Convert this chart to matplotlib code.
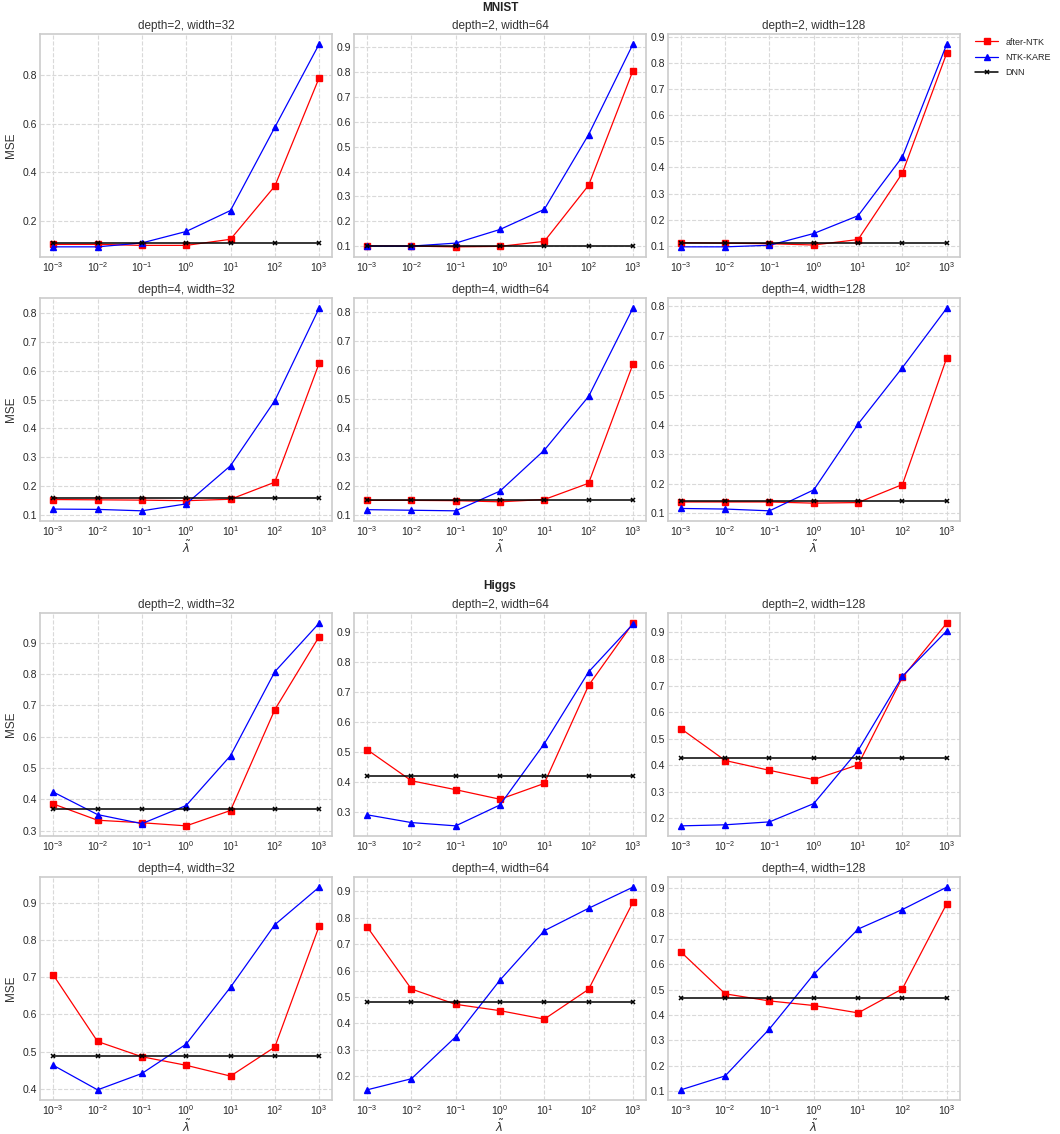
import matplotlib
matplotlib.use("Agg")
import matplotlib.pyplot as plt

# lambda grid and panel labels
lambdas = [1e-3, 1e-2, 1e-1, 1e0, 1e1, 1e2, 1e3]
panel_titles = [
    "depth=2, width=32", "depth=2, width=64", "depth=2, width=128",
    "depth=4, width=32", "depth=4, width=64", "depth=4, width=128",
]
series_labels = ["after-NTK", "NTK-KARE", "DNN"]

# MNIST (one row per panel, same order as panel_titles)
mnist_after_ntk = [
    [0.105, 0.105, 0.101, 0.101, 0.126, 0.344, 0.788],
    [0.101, 0.100, 0.097, 0.099, 0.119, 0.345, 0.806],
    [0.113, 0.111, 0.109, 0.104, 0.125, 0.379, 0.837],
    [0.154, 0.153, 0.152, 0.150, 0.155, 0.214, 0.625],
    [0.152, 0.152, 0.151, 0.147, 0.155, 0.211, 0.621],
    [0.138, 0.138, 0.138, 0.134, 0.136, 0.197, 0.626],
]
mnist_ntk_kare = [
    [0.095, 0.095, 0.111, 0.158, 0.244, 0.585, 0.926],
    [0.100, 0.100, 0.112, 0.167, 0.248, 0.549, 0.913],
    [0.097, 0.097, 0.103, 0.148, 0.216, 0.441, 0.871],
    [0.121, 0.120, 0.115, 0.139, 0.271, 0.496, 0.816],
    [0.120, 0.118, 0.116, 0.184, 0.325, 0.510, 0.814],
    [0.116, 0.114, 0.108, 0.179, 0.402, 0.593, 0.794],
]
mnist_dnn = [0.110, 0.101, 0.113, 0.158, 0.154, 0.141]

# Higgs
higgs_after_ntk = [
    [0.385, 0.333, 0.325, 0.315, 0.364, 0.686, 0.919],
    [0.507, 0.403, 0.373, 0.341, 0.394, 0.722, 0.930],
    [0.538, 0.418, 0.381, 0.346, 0.402, 0.731, 0.935],
    [0.706, 0.527, 0.486, 0.463, 0.434, 0.512, 0.837],
    [0.766, 0.530, 0.472, 0.448, 0.416, 0.529, 0.859],
    [0.648, 0.483, 0.455, 0.437, 0.408, 0.503, 0.838],
]
higgs_ntk_kare = [
    [0.423, 0.351, 0.322, 0.380, 0.539, 0.807, 0.962],
    [0.289, 0.263, 0.252, 0.322, 0.527, 0.767, 0.927],
    [0.172, 0.176, 0.187, 0.256, 0.456, 0.735, 0.906],
    [0.463, 0.397, 0.441, 0.520, 0.673, 0.841, 0.942],
    [0.148, 0.190, 0.349, 0.564, 0.751, 0.836, 0.916],
    [0.105, 0.160, 0.345, 0.560, 0.738, 0.815, 0.903],
]
higgs_dnn = [0.369, 0.420, 0.428, 0.489, 0.479, 0.465]

plt.style.use("seaborn-v0_8-whitegrid")
plt.rcParams.update({
    "font.family": "sans-serif",
    "font.sans-serif": ["Liberation Sans", "DejaVu Sans"],
    "xtick.labelsize": 7.5,
    "ytick.labelsize": 7.5,
    "axes.titlesize": 8.5,
    "axes.labelsize": 8.5,
    "grid.linestyle": "--",
    "grid.color": "#d9d9d9",
    "axes.edgecolor": "#cccccc",
    "axes.linewidth": 1.2,
    "xtick.major.pad": 2.5,
    "ytick.major.pad": 2,
})

fig = plt.figure(figsize=(10.6, 11.34), dpi=100)

groups = [
    ("MNIST", mnist_after_ntk, mnist_ntk_kare, mnist_dnn, 0.970, 0.5406, 0.9985),
    ("Higgs", higgs_after_ntk, higgs_ntk_kare, higgs_dnn, 0.4594, 0.030, 0.4885),
]

handles = None
for name, after, kare, dnn, top, bottom, ty in groups:
    gs = fig.add_gridspec(2, 3, left=0.0377, right=0.9057, top=top, bottom=bottom,
                          wspace=0.073, hspace=0.184)
    for k in range(6):
        r, c = divmod(k, 3)
        ax = fig.add_subplot(gs[r, c])
        l1, = ax.plot(lambdas, after[k], color="red", marker="s", markersize=3.8,
                      linewidth=0.9, label=series_labels[0])
        l2, = ax.plot(lambdas, kare[k], color="blue", marker="^", markersize=4,
                      linewidth=0.9, label=series_labels[1])
        l3, = ax.plot(lambdas, [dnn[k]] * len(lambdas), color="black", marker="x",
                      markersize=3.5, markeredgewidth=1.1, linewidth=1.1,
                      label=series_labels[2])
        ax.set_xscale("log")
        ax.set_xticks(lambdas)
        ax.minorticks_off()
        ax.set_title(panel_titles[k], pad=3.5, color="#333333")
        if c == 0:
            ax.set_ylabel("MSE", color="#333333")
        if r == 1:
            ax.set_xlabel(r"$\tilde{\lambda}$", labelpad=1, color="#333333")
        if handles is None:
            handles = [l1, l2, l3]
    fig.text(0.4717, ty, name, ha="center", va="top", fontsize=8.5,
             fontweight="bold", color="#222222")

fig.legend(handles=handles, labels=series_labels, loc="upper left",
           bbox_to_anchor=(0.912, 0.974), fontsize=6.5, frameon=False,
           handlelength=2.6, labelspacing=0.7)

fig.savefig("out.png", dpi=100)
